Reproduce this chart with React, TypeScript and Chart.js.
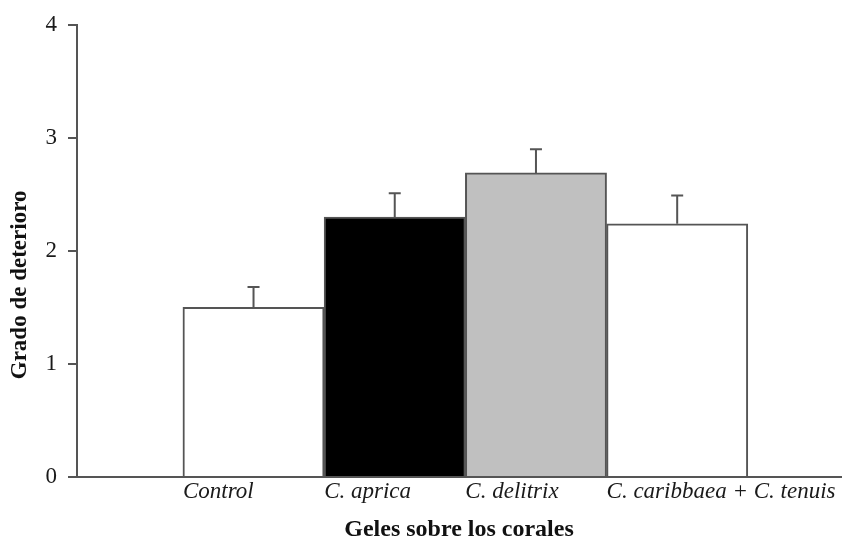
import React, { useEffect, useRef } from "react";
import { Chart, registerables } from "chart.js";

Chart.register(...registerables);

const categories = ["Control", "C. aprica", "C. delitrix", "C. caribbaea + C. tenuis"];
const values = [1.5, 2.3, 2.69, 2.24];
const errors = [0.18, 0.21, 0.21, 0.25];
const barColors = ["#ffffff", "#000000", "#c0c0c0", "#ffffff"];
const yTicks = [0, 1, 2, 3, 4];
const xTitle = "Geles sobre los corales";
const yTitle = "Grado de deterioro";

const FONT = "'Liberation Serif', 'Times New Roman', serif";
const LINE = "#555555";

const errorBarPlugin = {
  id: "errorBars",
  afterDatasetsDraw(chart: any) {
    const meta = chart.getDatasetMeta(0);
    const yScale = chart.scales.y;
    const ctx = chart.ctx;
    ctx.save();
    ctx.strokeStyle = LINE;
    ctx.lineWidth = 2;
    meta.data.forEach((el: any, i: number) => {
      const x = el.x;
      const yTop = yScale.getPixelForValue(values[i] + errors[i]);
      const yBase = yScale.getPixelForValue(values[i]);
      ctx.beginPath();
      ctx.moveTo(x, yBase);
      ctx.lineTo(x, yTop);
      ctx.moveTo(x - 6, yTop);
      ctx.lineTo(x + 6, yTop);
      ctx.stroke();
    });
    ctx.restore();
  },
};

const yTitlePlugin = {
  id: "yTitle",
  afterDraw(chart: any) {
    const { ctx, chartArea } = chart;
    ctx.save();
    ctx.translate(20, (chartArea.top + chartArea.bottom) / 2 + 34);
    ctx.rotate(-Math.PI / 2);
    ctx.font = `bold 23px ${FONT}`;
    ctx.fillStyle = "#111111";
    ctx.textAlign = "center";
    ctx.textBaseline = "middle";
    ctx.fillText(yTitle, 0, 0);
    ctx.restore();
  },
};

export default function App() {
  const ref = useRef<HTMLCanvasElement | null>(null);
  useEffect(() => {
    if (!ref.current) return;
    const chart = new Chart(ref.current, {
      type: "bar",
      data: {
        datasets: [
          {
            data: categories.map((_, i) => ({ x: i + 1, y: values[i] })) as any,
            backgroundColor: barColors,
            borderColor: LINE,
            borderWidth: 2,
            barPercentage: 1,
            categoryPercentage: 1,
          },
        ],
      },
      options: {
        animation: false,
        responsive: true,
        maintainAspectRatio: false,
        layout: { padding: { top: 24, right: 17, left: 0, bottom: 0 } },
        plugins: { legend: { display: false }, tooltip: { enabled: false } },
        scales: {
          x: {
            type: "linear",
            offset: false,
            min: -0.25,
            max: 5.16,
            afterFit: (s: any) => {
              s.height = 67;
            },
            afterBuildTicks: (s: any) => {
              s.ticks = categories.map((_, i) => ({ value: i + 0.5 }));
            },
            grid: { offset: false, drawOnChartArea: false, drawTicks: false, color: "rgba(0,0,0,0)" },
            border: { display: true, color: LINE, width: 2 },
            ticks: {
              autoSkip: false,
              maxRotation: 0,
              align: "start",
              padding: 1,
              color: "#1a1a1a",
              font: { family: FONT, size: 23, style: "italic" },
              callback: (_v: any, index: number) => categories[index],
            },
            title: {
              display: true,
              text: xTitle,
              color: "#111111",
              font: { family: FONT, size: 24, weight: "bold" },
              padding: { top: 0, bottom: 0 },
            },
          },
          y: {
            min: 0,
            max: 4,
            afterFit: (s: any) => {
              s.width = 77;
            },
            afterBuildTicks: (s: any) => {
              s.ticks = yTicks.map((v) => ({ value: v }));
            },
            grid: { drawOnChartArea: false, drawTicks: true, tickLength: 9, color: LINE, lineWidth: 2 },
            border: { display: true, color: LINE, width: 2 },
            ticks: {
              padding: 11,
              color: "#1a1a1a",
              font: { family: FONT, size: 23 },
            },
          },
        },
      },
      plugins: [errorBarPlugin, yTitlePlugin],
    });
    return () => chart.destroy();
  }, []);
  return (
    <div style={{ position: "absolute", left: 0, top: 0, width: 858, height: 544, background: "#fff" }}>
      <canvas ref={ref} />
    </div>
  );
}
